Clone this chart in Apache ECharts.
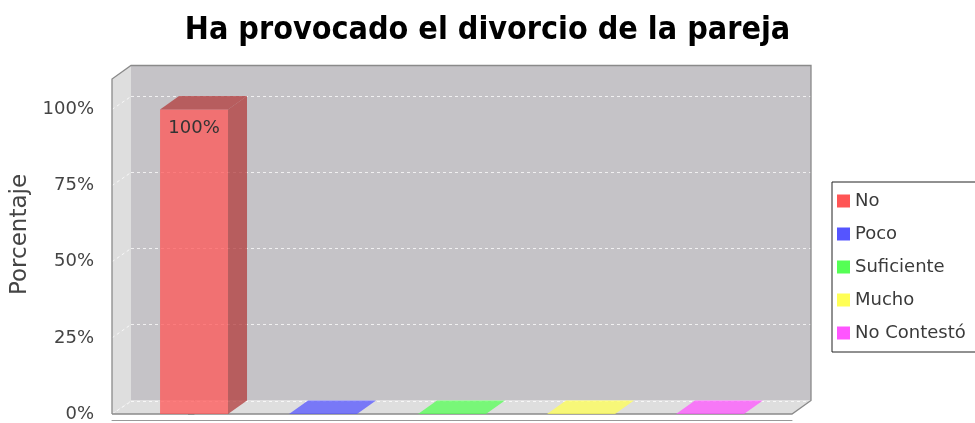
<!DOCTYPE html>
<html><head><meta charset="utf-8">
<script src="https://cdn.jsdelivr.net/npm/echarts@6/dist/echarts.min.js"></script>
<style>html,body{margin:0;padding:0;background:#fff}#c{width:975px;height:423px}</style>
</head><body><div id="c"></div>
<script>
// ---- data ----
const categories = ['No', 'Poco', 'Suficiente', 'Mucho', 'No Contestó'];
const values = [100, 0, 0, 0, 0];
const yTicks = [0, 25, 50, 75, 100];
const colors = ['#ff5555', '#5555ff', '#55ff55', '#ffff55', '#ff55ff'];
const titleText = 'Ha provocado el divorcio de la pareja';
const yAxisName = 'Porcentaje';

// ---- style constants ----
const DX = 19, DY = 13.5;          // 3D depth offset
const ALPHA = 0.75;
const FONT = '"DejaVu Sans", sans-serif';

function rgba(hex, a, f) {
  f = f || 1;
  const n = parseInt(hex.slice(1), 16);
  const r = Math.floor(((n >> 16) & 255) * f), g = Math.floor(((n >> 8) & 255) * f), b = Math.floor((n & 255) * f);
  return 'rgba(' + r + ',' + g + ',' + b + ',' + a + ')';
}

const chart = echarts.init(document.getElementById('c'), null, { renderer: 'canvas' });

const wallSeries = {
  type: 'custom',
  silent: true,
  z: 1,
  data: [[0, 0]],
  label: { show: false },
  renderItem: function (params, api) {
    const cs = params.coordSys;
    const x0 = cs.x, y0 = cs.y, w = cs.width, h = cs.height;
    const yB = y0 + h;
    const ch = [];
    ch.push({ type: 'rect', shape: { x: x0 + DX, y: y0 - DY, width: w, height: h }, style: { fill: '#c5c3c7' } });
    ch.push({ type: 'polygon', shape: { points: [[x0, y0], [x0 + DX, y0 - DY], [x0 + DX, yB - DY], [x0, yB]] }, style: { fill: '#dedede' } });
    ch.push({ type: 'polygon', shape: { points: [[x0, yB], [x0 + DX, yB - DY], [x0 + w + DX, yB - DY], [x0 + w, yB]] }, style: { fill: '#dedede' } });
    yTicks.forEach(function (v) {
      const yf = api.coord([0, v])[1];
      const yy = Math.round(yf - DY) + 0.5;
      ch.push({ type: 'line', shape: { x1: x0 + DX, y1: yy, x2: x0 + w + DX, y2: yy },
        style: { stroke: 'rgba(255,255,255,0.75)', lineWidth: 1, lineDash: [3, 3] } });
      ch.push({ type: 'line', shape: { x1: x0, y1: yf, x2: x0 + DX, y2: yy },
        style: { stroke: 'rgba(255,255,255,0.75)', lineWidth: 1, lineDash: [3, 3] } });
    });
    ch.push({ type: 'polyline', shape: { points: [[x0, yB], [x0, y0], [x0 + DX, y0 - DY], [x0 + w + DX, y0 - DY], [x0 + w + DX, yB - DY], [x0 + w, yB], [x0, yB]] },
      style: { stroke: '#8a8a8a', fill: null, lineWidth: 1.3 } });
    return { type: 'group', children: ch };
  }
};

const barSeries = categories.map(function (name, i) {
  return {
    type: 'custom',
    name: name,
    z: 3,
    itemStyle: { color: colors[i] },
    data: [[i, values[i]]],
    encode: { x: 0, y: 1 },
    renderItem: function (params, api) {
      const xi = api.value(0), v = api.value(1);
      const base = api.coord([xi, 0]), top = api.coord([xi, v]);
      const bw = api.size([1, 0])[0] * 0.527;
      const xl = base[0] - bw / 2, xr = base[0] + bw / 2, yb = base[1], yt = top[1];
      const c = colors[i];
      const flat = (yb - yt) < 1;
      const ch = [];
      if (!flat) {
        ch.push({ type: 'rect', shape: { x: xl, y: yt, width: bw, height: yb - yt }, style: { fill: rgba(c, ALPHA) } });
        ch.push({ type: 'polygon', shape: { points: [[xr, yt], [xr + DX, yt - DY], [xr + DX, yb - DY], [xr, yb]] }, style: { fill: rgba(c, ALPHA, 0.7) } });
      }
      ch.push({ type: 'polygon', shape: { points: [[xl, yt], [xl + DX, yt - DY], [xr + DX, yt - DY], [xr, yt]] },
        style: { fill: flat ? rgba(c, ALPHA) : rgba(c, ALPHA, 0.7) } });
      if (v > 0) {
        ch.push({ type: 'text', x: base[0], y: yt + 19,
          style: { text: v + '%', fill: '#333', font: '18px ' + FONT, align: 'center', verticalAlign: 'middle' } });
      }
      return { type: 'group', children: ch };
    }
  };
});

chart.setOption({
  animation: false,
  backgroundColor: '#ffffff',
  title: {
    text: titleText, left: 'center', top: 10,
    textStyle: { fontFamily: '"DejaVu Sans Condensed", "DejaVu Sans", sans-serif', fontWeight: 'bold', fontSize: 32, color: '#000' }
  },
  legend: {
    data: categories, orient: 'vertical', left: 832, top: 182,
    itemWidth: 13, itemHeight: 13, itemGap: 15, icon: 'rect',
    padding: [10, 12, 10, 5], borderColor: '#222', borderWidth: 1,
    textStyle: { fontFamily: FONT, fontSize: 18, color: '#3a3a3a' }
  },
  grid: { left: 112, right: 183, top: 79, bottom: 8.5, containLabel: false },
  xAxis: {
    type: 'value', min: -0.636, max: 4.636, offset: 6,
    axisLine: { show: true, onZero: false, lineStyle: { color: '#999' } },
    axisTick: { show: false }, axisLabel: { show: false }, splitLine: { show: false }
  },
  yAxis: {
    type: 'value', min: 0, max: 110, interval: 25, offset: 8,
    axisLine: { show: true, lineStyle: { color: '#888' } },
    axisTick: { show: true, length: 6, customValues: yTicks, lineStyle: { color: '#888' } },
    axisLabel: { customValues: yTicks, formatter: '{value}%', margin: 10, fontSize: 18, fontFamily: FONT, color: '#444' },
    splitLine: { show: false },
    name: yAxisName, nameLocation: 'middle', nameGap: 70,
    nameTextStyle: { fontSize: 23, fontFamily: FONT, color: '#444', padding: [0, 0, 0, 24] }
  },
  series: [wallSeries].concat(barSeries)
});
</script>
</body></html>
